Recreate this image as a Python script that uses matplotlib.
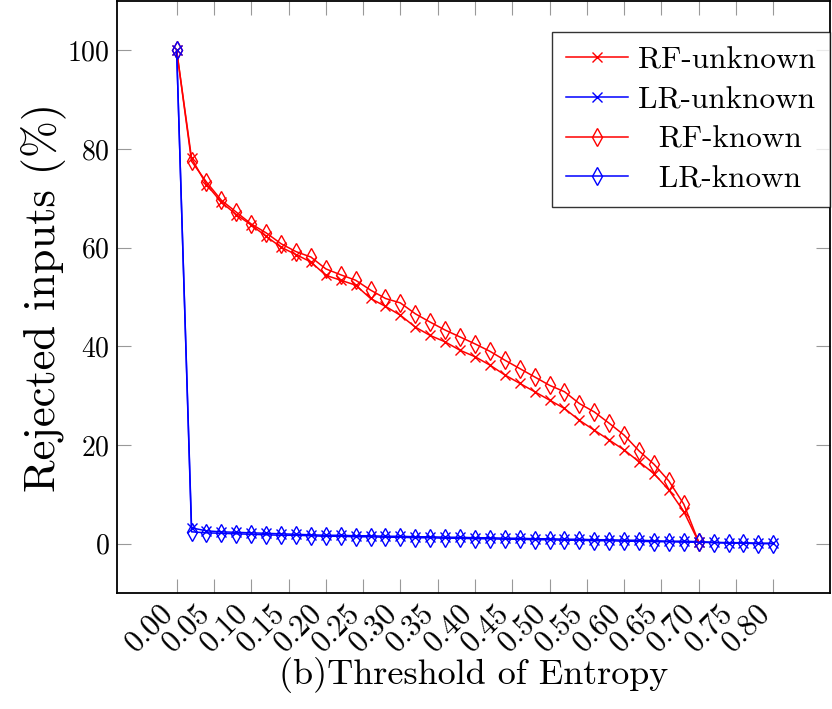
import matplotlib
matplotlib.use('Agg')
import matplotlib.pyplot as plt
from matplotlib.transforms import ScaledTranslation

plt.rcParams['font.family'] = 'serif'
plt.rcParams['font.serif'] = ['cmr10', 'DejaVu Serif']
plt.rcParams['axes.formatter.use_mathtext'] = True

# thresholds of entropy, step 0.02
thresholds = [round(0.02 * i, 2) for i in range(41)]

# RF curves stop at 0.70
rf_unknown = [100, 78.1, 72.8, 69.2, 66.7, 64.6, 62.3, 60.1, 58.6, 57.1,
              54.4, 53.4, 52.4, 49.7, 48.1, 46.3, 43.9, 42.2, 40.9, 39.2,
              37.9, 36.2, 34.2, 32.5, 30.8, 29.1, 27.4, 25.0, 23.0, 21.0,
              19.0, 16.6, 14.2, 10.9, 6.5, 0.3]
lr_unknown = [100, 3.2, 2.6, 2.4, 2.3, 2.2, 2.1, 2.0, 1.9, 1.8,
              1.7, 1.7, 1.6, 1.6, 1.5, 1.5, 1.4, 1.4, 1.3, 1.3,
              1.2, 1.2, 1.1, 1.1, 1.0, 1.0, 0.9, 0.9, 0.8, 0.8,
              0.7, 0.7, 0.6, 0.5, 0.5, 0.4, 0.3, 0.2, 0.2, 0.1, 0.1]
rf_known = [100, 77.5, 73.3, 69.6, 67.2, 64.8, 63.0, 60.8, 59.2, 58.1,
            55.7, 54.5, 53.4, 51.4, 49.7, 48.8, 46.6, 44.9, 43.3, 41.9,
            40.5, 39.0, 37.2, 35.5, 33.8, 32.1, 30.8, 28.4, 26.7, 24.4,
            22.0, 18.8, 16.1, 12.7, 8.0, 0.3]
lr_known = [100, 2.4, 2.2, 2.1, 2.0, 1.9, 1.8, 1.7, 1.7, 1.6,
            1.5, 1.5, 1.4, 1.4, 1.3, 1.3, 1.2, 1.2, 1.1, 1.1,
            1.0, 1.0, 0.9, 0.9, 0.8, 0.8, 0.7, 0.7, 0.6, 0.6,
            0.5, 0.5, 0.4, 0.4, 0.3, 0.3, 0.2, 0.1, 0.1, 0.0, 0.0]

xtick_vals = [0.05 * i for i in range(17)]
xtick_labels = ['%.2f' % v for v in xtick_vals]
ytick_vals = [0, 20, 40, 60, 80, 100]

fig = plt.figure(figsize=(8.32, 7.09), dpi=100)
ax = fig.add_axes([0.1406, 0.1636, 0.8570, 0.835])

n_rf = len(rf_unknown)
ax.plot(thresholds[:n_rf], rf_unknown, color='#ff0000', marker='x', ms=7.5,
        mew=1.0, lw=1.1, label='RF-unknown')
ax.plot(thresholds, lr_unknown, color='#0000ff', marker='x', ms=7.5, mew=1.0,
        lw=1.1, label='LR-unknown')
ax.plot(thresholds[:n_rf], rf_known, color='#ff0000', marker='d', ms=9,
        mew=1.0, mfc='none', lw=1.1, label='  RF-known')
ax.plot(thresholds, lr_known, color='#0000ff', marker='d', ms=9, mew=1.0,
        mfc='none', lw=1.1, label='  LR-known')

ax.set_xlim(-0.08, 0.876)
ax.set_ylim(-10, 110)
ax.set_xticks(xtick_vals)
ax.set_xticklabels(xtick_labels, rotation=45, ha='right', va='center',
                   rotation_mode='anchor', fontsize=22)
ax.set_yticks(ytick_vals)
ax.tick_params(direction='in', length=10, width=0.8, color='#999999',
               top=True, right=True, pad=5)
ax.tick_params(axis='y', labelsize=20)
ax.tick_params(axis='x', pad=11)
shift = ScaledTranslation(-8 / 100, 0, fig.dpi_scale_trans)
for lab in ax.get_xticklabels():
    lab.set_transform(lab.get_transform() + shift)
for s in ax.spines.values():
    s.set_linewidth(1.3)

ax.set_xlabel('(b)Threshold of Entropy', fontsize=26, labelpad=0)
ax.set_ylabel('Rejected inputs (%)', fontsize=32, labelpad=1)

leg = ax.legend(loc='upper right', bbox_to_anchor=(1.0, 0.947), fontsize=22.5,
                frameon=True, fancybox=False, edgecolor='black',
                handlelength=2.0, handletextpad=0.32, labelspacing=0.375,
                borderpad=0.45, borderaxespad=0)
leg.get_frame().set_linewidth(1.0)

fig.savefig('out.png', dpi=100)
